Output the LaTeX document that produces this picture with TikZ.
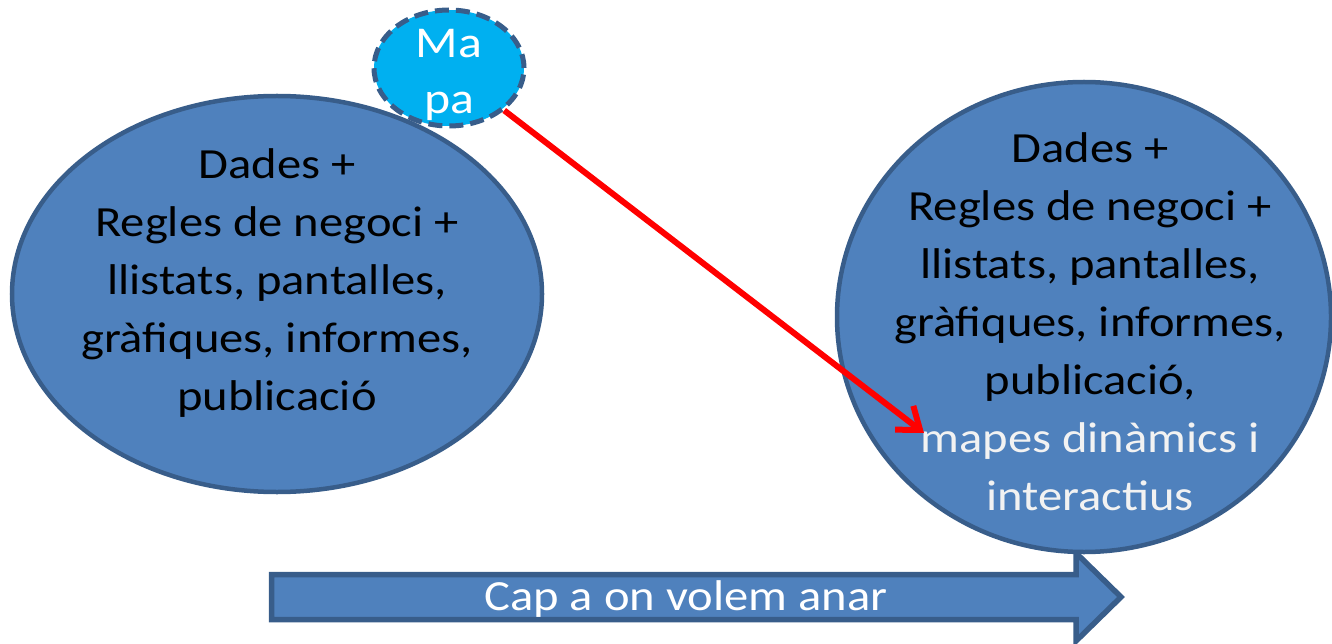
\documentclass[tikz,border=0pt]{standalone}
\usepackage{fontspec}
\setmainfont{Carlito}[FakeStretch=1.13]
\usetikzlibrary{shapes.geometric,arrows.meta}
\definecolor{ofill}{HTML}{4F81BD}
\definecolor{oline}{HTML}{385D8A}
\definecolor{cyanfill}{HTML}{00B0F0}
\definecolor{lightw}{HTML}{F2F2F2}
\tikzset{
  bigell/.style={ellipse, draw=oline, fill=ofill, line width=4.5pt, inner sep=0pt},
  bigtxt/.style={align=center, font=\fontsize{43}{58}\selectfont, inner sep=0pt},
  redarrow/.style={draw=red, line width=6pt, -{Straight Barb[length=20pt,width=30pt,line width=6pt]}},
}
\begin{document}
\begin{tikzpicture}[x=1pt,y=-1pt]
\useasboundingbox (0,0) rectangle (1332,644);
% bottom arrow
\draw[draw=oline, fill=ofill, line width=5.5pt, line join=miter]
  (271.5,574.5) -- (1076,574.5) -- (1076,553) -- (1121,597) -- (1076,641) -- (1076,619.5) -- (271.5,619.5) -- cycle;
\node[bigtxt, text=white] (cap) at (686,599) {Cap a on volem anar};
% left ellipse
\node[bigell, minimum width=530pt, minimum height=396pt] (left) at (277,294) {};
\node[bigtxt, anchor=north] (lefttxt) at (277,148) {Dades +\\Regles de negoci +\\llistats, pantalles,\\gràfiques, informes,\\publicació};
% small ellipse
\node[ellipse, draw=oline, fill=cyanfill, line width=5pt, dash pattern=on 14pt off 7pt, minimum width=150pt, minimum height=116pt, inner sep=0pt] (mapa) at (449,68) {};
\node[bigtxt, text=white, font=\fontsize{44}{56}\selectfont, anchor=north] (mapatxt) at (449,29) {Ma\\pa};
% right ellipse
\node[bigell, minimum width=494pt, minimum height=470pt] (right) at (1084,317) {};
\node[bigtxt, anchor=north] (righttxt) at (1090,132) {Dades +\\Regles de negoci +\\llistats, pantalles,\\gràfiques, informes,\\publicació,\\\textcolor{lightw}{mapes dinàmics i}\\\textcolor{lightw}{interactius}};
% red arrow
\coordinate (tip) at (924,433);
\draw[redarrow] (mapa) -- (tip);
\end{tikzpicture}
\end{document}
